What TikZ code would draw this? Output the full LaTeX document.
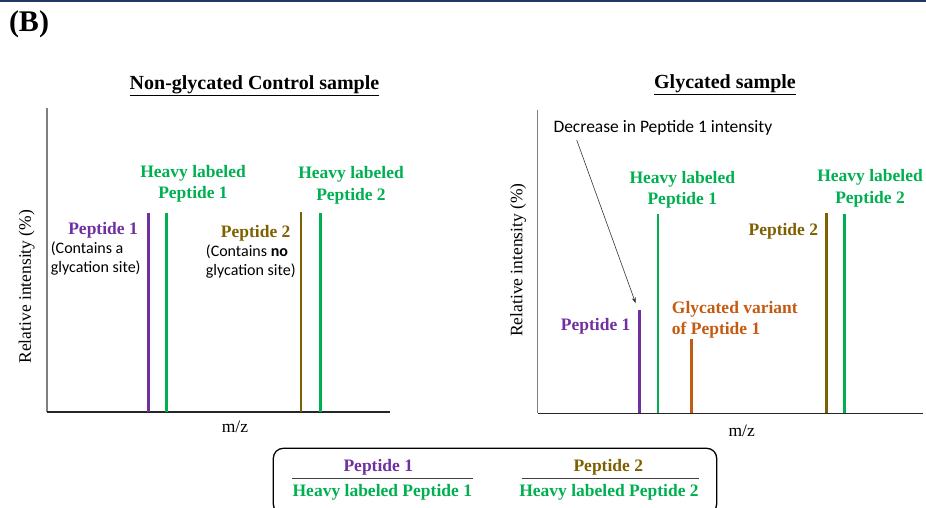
\documentclass[tikz,border=0pt]{standalone}
\usepackage{fontspec}
\setmainfont{Liberation Serif}
\newfontfamily\calibri{Carlito}
\usetikzlibrary{positioning, arrows.meta}
\definecolor{pepone}{HTML}{7030A0}
\definecolor{heavy}{HTML}{00B050}
\definecolor{peptwo}{HTML}{7F6000}
\definecolor{glyc}{HTML}{C55A11}
\definecolor{navy}{HTML}{1F3864}
\definecolor{axisgray}{HTML}{7F7F7F}
\tikzset{
        x=1pt, y=-1pt, % one unit is one pixel of the figure, y runs down
        peak/.style={line width=2.6pt}, % the spectrum lines
        yaxis/.style={axisgray, line width=1.4pt},
        xaxis/.style={black!85, line width=1.3pt},
        tag/.style={font=\bfseries\fontsize{17.5}{21.5}\selectfont, align=center, inner sep=0pt, yshift=-2pt},
        note/.style={font=\calibri\fontsize{16}{19}\selectfont, align=left, inner sep=0pt, yshift=-1.5pt},
        axlabel/.style={font=\fontsize{17.5}{20}\selectfont, inner sep=0pt},
        title/.style={font=\bfseries\fontsize{20}{22}\selectfont, inner sep=0pt, yshift=-3pt},
    }
\begin{document}
\begin{tikzpicture}
    \useasboundingbox (0,0) rectangle (926,508);
    \draw[navy, line width=2.5pt] (0,0.5) -- (926,0.5);
    \node[font=\bfseries\fontsize{30}{32}\selectfont, inner sep=0pt] (panel) at (29,24) {(B)};

    % non-glycated control
    \node[title] (ttlA) at (254.5,83) {\underline{Non-glycated Control sample}};
    \coordinate (A0) at (47,412);
    \draw[yaxis] (47,108) -- (A0);
    \draw[xaxis] (A0) -- (390,412);
    \draw[peak, pepone] (148.3,412) -- (148.3,213);
    \draw[peak, heavy] (166.7,412) -- (166.7,213);
    \draw[peak, peptwo] (301,412) -- (301,212);
    \draw[peak, heavy] (320.3,412) -- (320.3,213);
    \node[tag, heavy] (hA1) at (193,182) {Heavy labeled\\Peptide 1};
    \node[tag, heavy] (hA2) at (351,183.5) {Heavy labeled\\Peptide 2};
    \node[tag, pepone, anchor=east] (pA1) at (138,228.3) {Peptide 1};
    \node[note, anchor=west] (cA1) at (50.7,257.2) {(Contains a\\glycation site)};
    \node[tag, peptwo] (pA2) at (255.7,231) {Peptide 2};
    \node[note, anchor=west] (cA2) at (205.7,259.7) {(Contains \textbf{no}\\glycation site)};
    \node[axlabel, rotate=90] (yA) at (26.7,286.7) {Relative intensity (\%)};
    \node[axlabel] (xA) at (235,427) {m/z};

    % glycated
    \node[title] (ttlB) at (725,81.7) {\underline{Glycated sample}};
    \coordinate (B0) at (537.7,413.3);
    \draw[yaxis] (537.7,110) -- (B0);
    \draw[xaxis] (B0) -- (923,413.3);
    \draw[peak, pepone] (639.3,413.3) -- (639.3,310);
    \draw[peak, heavy] (658,413.3) -- (658,214);
    \draw[peak, glyc] (691.3,413.3) -- (691.3,339.3);
    \draw[peak, peptwo] (826.3,413.3) -- (826.3,213.3);
    \draw[peak, heavy] (844.3,413.3) -- (844.3,214.3);
    \node[tag, heavy] (hB1) at (682.3,188) {Heavy labeled\\Peptide 1};
    \node[tag, heavy] (hB2) at (870,186.2) {Heavy labeled\\Peptide 2};
    \node[tag, peptwo, anchor=east] (pB2) at (818.3,229.3) {Peptide 2};
    \node[tag, glyc, anchor=west, align=left] (gB1) at (671.7,317.8) {Glycated variant\\of Peptide 1};
    \node[tag, pepone] (pB1) at (595.7,324.3) {Peptide 1};
    \node[note, anchor=west, font=\calibri\fontsize{17.5}{19}\selectfont] (drop) at (553.3,126.7) {Decrease in Peptide 1 intensity};
    \coordinate (dropstart) at (576.7,140);
    \coordinate (dropend) at (635.7,303.3);
    \draw[-{Stealth[length=6pt, width=4pt]}, line width=0.6pt, black!80] (dropstart) -- (dropend);
    \node[axlabel, rotate=90] (yB) at (518.3,260) {Relative intensity (\%)};
    \node[axlabel] (xB) at (741.7,431) {m/z};

    % ratio box
    \draw[line width=1.3pt, rounded corners=10pt] (273.3,448.3) rectangle (716.7,514);
    \node[tag, pepone] (rA) at (378.3,465) {Peptide 1};
    \node[tag, heavy] (rAh) at (382.3,490) {Heavy labeled Peptide 1};
    \draw[black!75, line width=0.8pt] (292.3,478.3) -- (473.3,478.3);
    \node[tag, peptwo] (rB) at (608.3,465) {Peptide 2};
    \node[tag, heavy] (rBh) at (609,490) {Heavy labeled Peptide 2};
    \draw[black!75, line width=0.8pt] (522.3,478.3) -- (699.3,478.3);
\end{tikzpicture}
\end{document}
